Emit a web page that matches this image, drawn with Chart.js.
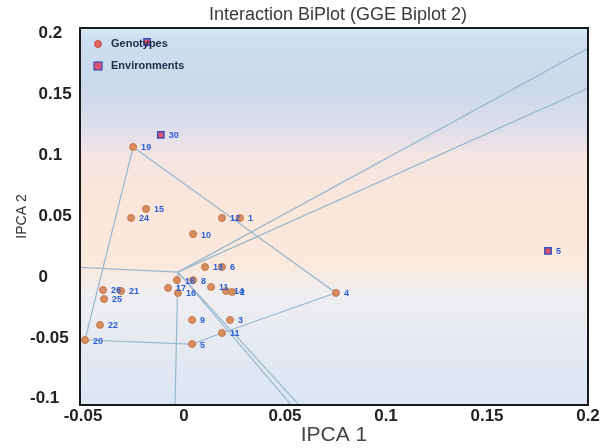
<!DOCTYPE html>
<html>
<head>
<meta charset="utf-8">
<script src="https://cdn.jsdelivr.net/npm/chart.js@4.4.1/dist/chart.umd.min.js"></script>
<style>
  html, body { margin: 0; padding: 0; background: #fff; }
  #wrap { position: relative; width: 610px; height: 448px; }
</style>
</head>
<body>
<div id="wrap"><canvas id="biplot"></canvas></div>
<script>
// --- dados ---
const genoLabels = ['1', '12', '10', '15', '24', '19', '13', '6', '18', '8', '17', '16', '11', '14', '2', '4', '9', '3', '11', '26', '21', '25', '22', '20', '5'];
const genoX = [0.0277, 0.0188, 0.0045, -0.0188, -0.0262, -0.0252, 0.0104, 0.0188, -0.0035, 0.0045, -0.0079, -0.0030, 0.0134, 0.0208, 0.0238, 0.0752, 0.0040, 0.0228, 0.0188, -0.0401, -0.0312, -0.0396, -0.0416, -0.0490, 0.0040];
const genoY = [0.0485, 0.0485, 0.0353, 0.0559, 0.0485, 0.1068, 0.0082, 0.0082, -0.0025, -0.0025, -0.0090, -0.0131, -0.0082, -0.0115, -0.0123, -0.0131, -0.0353, -0.0353, -0.0460, -0.0107, -0.0115, -0.0181, -0.0394, -0.0518, -0.0551];

const envLabels = ['', '30', '5'];
const envX = [-0.0183, -0.0115, 0.1802];
const envY = [0.1931, 0.1167, 0.0214];

// poligono (indices dos genotipos nos vertices)
const hullIdx = [5, 15, 18, 24, 23, 5];

// raios a partir da origem
const rayX0 = -0.003, rayY0 = 0.004;
const rayEndX = [0.2, 0.2, -0.052, -0.0045, 0.0535, 0.0574];
const rayEndY = [0.188, 0.155, 0.008, -0.106, -0.106, -0.106];

const xTicks = [-0.05, 0, 0.05, 0.1, 0.15, 0.2];
const yTicks = [-0.1, -0.05, 0, 0.05, 0.1, 0.15, 0.2];

const FONT = "'Liberation Sans', Arial, sans-serif";
const LINE_COLOR = '#9ab8ce';

const fmt = v => String(Math.round(v * 1000) / 1000);

// fundo em degrade + moldura + titulo
const backdrop = {
  id: 'backdrop',
  beforeDraw(chart) {
    const { ctx, chartArea: a } = chart;
    const g = ctx.createLinearGradient(0, a.top, 0, a.bottom);
    g.addColorStop(0.00, '#d9ecf8');
    g.addColorStop(0.03, '#cddff0');
    g.addColorStop(0.15, '#cbd9eb');
    g.addColorStop(0.27, '#dedfea');
    g.addColorStop(0.34, '#f4e5e2');
    g.addColorStop(0.48, '#fbe7d9');
    g.addColorStop(0.63, '#fbe9dd');
    g.addColorStop(0.71, '#eeeef2');
    g.addColorStop(0.85, '#e5e9f1');
    g.addColorStop(1.00, '#dbe6f4');
    ctx.save();
    ctx.fillStyle = g;
    ctx.fillRect(a.left, a.top, a.right - a.left, a.bottom - a.top);
    ctx.restore();
  },
  afterDraw(chart) {
    const { ctx, chartArea: a } = chart;
    ctx.save();
    ctx.strokeStyle = '#1a1a1a';
    ctx.lineWidth = 2;
    ctx.strokeRect(a.left, a.top, a.right - a.left, a.bottom - a.top);

    // titulo
    ctx.fillStyle = '#3a3a3a';
    ctx.font = '18px ' + FONT;
    ctx.textAlign = 'center';
    ctx.textBaseline = 'middle';
    ctx.fillText('Interaction BiPlot (GGE Biplot 2)', (a.left + a.right) / 2 + 4, 15);

    // titulo do eixo Y
    ctx.translate(22, (a.top + a.bottom) / 2);
    ctx.rotate(-Math.PI / 2);
    ctx.font = '14px ' + FONT;
    ctx.fillStyle = '#333';
    ctx.fillText('IPCA 2', 0, 0);
    ctx.restore();

    // legenda dentro do grafico
    ctx.save();
    ctx.font = 'bold 11px ' + FONT;
    ctx.textBaseline = 'middle';
    ctx.textAlign = 'left';
    const lx = a.left + 18;
    ctx.beginPath();
    ctx.arc(lx, a.top + 16, 3.5, 0, Math.PI * 2);
    ctx.fillStyle = '#e06a5a';
    ctx.fill();
    ctx.strokeStyle = '#c84a4a';
    ctx.lineWidth = 1;
    ctx.stroke();
    ctx.fillStyle = '#e0506a';
    ctx.fillRect(lx - 4, a.top + 34, 8, 8);
    ctx.strokeStyle = '#3050c0';
    ctx.lineWidth = 1.2;
    ctx.strokeRect(lx - 4, a.top + 34, 8, 8);
    ctx.fillStyle = '#1d2b4a';
    ctx.fillText('Genotypes', lx + 13, a.top + 16);
    ctx.fillText('Environments', lx + 13, a.top + 38);
    ctx.restore();
  }
};

// rotulos dos pontos
const pointLabels = {
  id: 'pointLabels',
  afterDatasetsDraw(chart) {
    const { ctx } = chart;
    ctx.save();
    ctx.font = 'bold 9px ' + FONT;
    ctx.fillStyle = '#2a5fd6';
    ctx.textAlign = 'left';
    ctx.textBaseline = 'middle';
    chart.data.datasets.forEach((ds, i) => {
      if (!ds.pointText) return;
      chart.getDatasetMeta(i).data.forEach((pt, j) => {
        const t = ds.pointText[j];
        if (t) ctx.fillText(t, pt.x + 8, pt.y + 1);
      });
    });
    ctx.restore();
  }
};

const genoData = genoX.map((x, i) => ({ x: x, y: genoY[i] }));
const envData = envX.map((x, i) => ({ x: x, y: envY[i] }));
const hullData = hullIdx.map(i => ({ x: genoX[i], y: genoY[i] }));

const lineStyle = {
  showLine: true,
  pointRadius: 0,
  borderColor: LINE_COLOR,
  borderWidth: 1.2,
  fill: false,
  order: 5
};

const datasets = [
  {
    label: 'Genotypes',
    data: genoData,
    pointText: genoLabels,
    pointStyle: 'circle',
    pointRadius: 3.5,
    backgroundColor: '#d98c5f',
    borderColor: '#c47a50',
    borderWidth: 1,
    order: 1
  },
  {
    label: 'Environments',
    data: envData,
    pointText: envLabels,
    pointStyle: 'rect',
    pointRadius: 4.5,
    backgroundColor: '#e0506a',
    borderColor: '#3050c0',
    borderWidth: 1.4,
    order: 0
  },
  Object.assign({ label: 'hull', data: hullData }, lineStyle)
];

rayEndX.forEach((x, i) => {
  datasets.push(Object.assign({
    label: 'ray' + i,
    data: [{ x: rayX0, y: rayY0 }, { x: x, y: rayEndY[i] }]
  }, lineStyle));
});

new Chart(document.getElementById('biplot'), {
  type: 'scatter',
  data: { datasets: datasets },
  options: {
    responsive: true,
    maintainAspectRatio: false,
    animation: false,
    layout: { padding: { top: 28, right: 22, left: 30, bottom: 0 } },
    plugins: {
      legend: { display: false },
      tooltip: { enabled: false }
    },
    scales: {
      x: {
        type: 'linear',
        min: -0.0515,
        max: 0.2,
        afterBuildTicks: s => { s.ticks = xTicks.map(v => ({ value: v })); },
        afterFit: s => { s.height = 43; },
        grid: { display: false, drawTicks: false },
        border: { display: false },
        ticks: {
          autoSkip: false,
          maxRotation: 0,
          padding: 1,
          color: '#222',
          font: { family: FONT, size: 17, weight: 'bold' },
          callback: v => fmt(v)
        },
        title: {
          display: true,
          text: 'IPCA 1',
          color: '#444',
          font: { family: FONT, size: 21 },
          padding: { top: 0, bottom: 0 }
        }
      },
      y: {
        type: 'linear',
        min: -0.1052,
        max: 0.2046,
        afterBuildTicks: s => { s.ticks = yTicks.map(v => ({ value: v })); },
        afterFit: s => { s.width = 50; },
        grid: { display: false, drawTicks: false },
        border: { display: false },
        ticks: {
          autoSkip: false,
          crossAlign: 'far',
          color: '#222',
          font: { family: FONT, size: 17, weight: 'bold' },
          callback: v => (v >= 0 ? '\u2002' : '') + fmt(v)
        }
      }
    }
  },
  plugins: [backdrop, pointLabels]
});
</script>
</body>
</html>
